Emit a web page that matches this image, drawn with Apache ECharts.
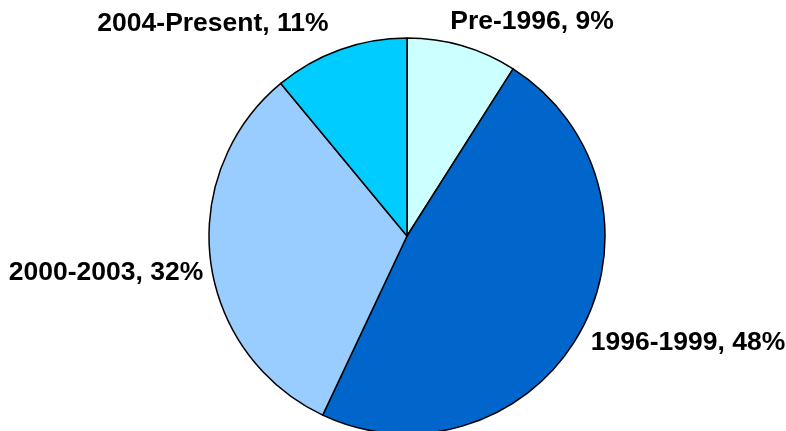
<!DOCTYPE html>
<html>
<head>
<meta charset="utf-8">
<script src="https://cdn.jsdelivr.net/npm/echarts@6/dist/echarts.min.js"></script>
<style>
html,body{margin:0;padding:0;background:#fff;}
#chart{width:786px;height:431px;}
</style>
</head>
<body>
<div id="chart"></div>
<script>
var categories = ['Pre-1996', '1996-1999', '2000-2003', '2004-Present'];
var values = [9, 48, 32, 11];
var colors = ['#CCFFFF', '#0066CC', '#99CCFF', '#00CCFF'];
var labelPos = [[532, 22], [688, 343], [106, 273], [213, 24]];

var chart = echarts.init(document.getElementById('chart'));
chart.setOption({
  animation: false,
  backgroundColor: '#ffffff',
  series: [{
    type: 'pie',
    center: [407, 236],
    radius: 198,
    startAngle: 90,
    clockwise: true,
    data: categories.map(function (c, i) {
      return { name: c, value: values[i], itemStyle: { color: colors[i] } };
    }),
    itemStyle: { borderColor: '#000', borderWidth: 1.5 },
    label: {
      show: true,
      position: 'outside',
      overflow: 'none',
      edgeDistance: 0,
      formatter: function (p) { return p.name + ', ' + p.value + '%'; },
      fontFamily: 'Liberation Sans, Arial, sans-serif',
      fontWeight: 'bold',
      fontSize: 26.5,
      color: '#000'
    },
    labelLine: { show: false },
    labelLayout: function (p) {
      var pos = labelPos[p.dataIndex];
      return { x: pos[0], y: pos[1], align: 'center', verticalAlign: 'middle' };
    },
    emphasis: { disabled: true }
  }]
});
</script>
</body>
</html>
